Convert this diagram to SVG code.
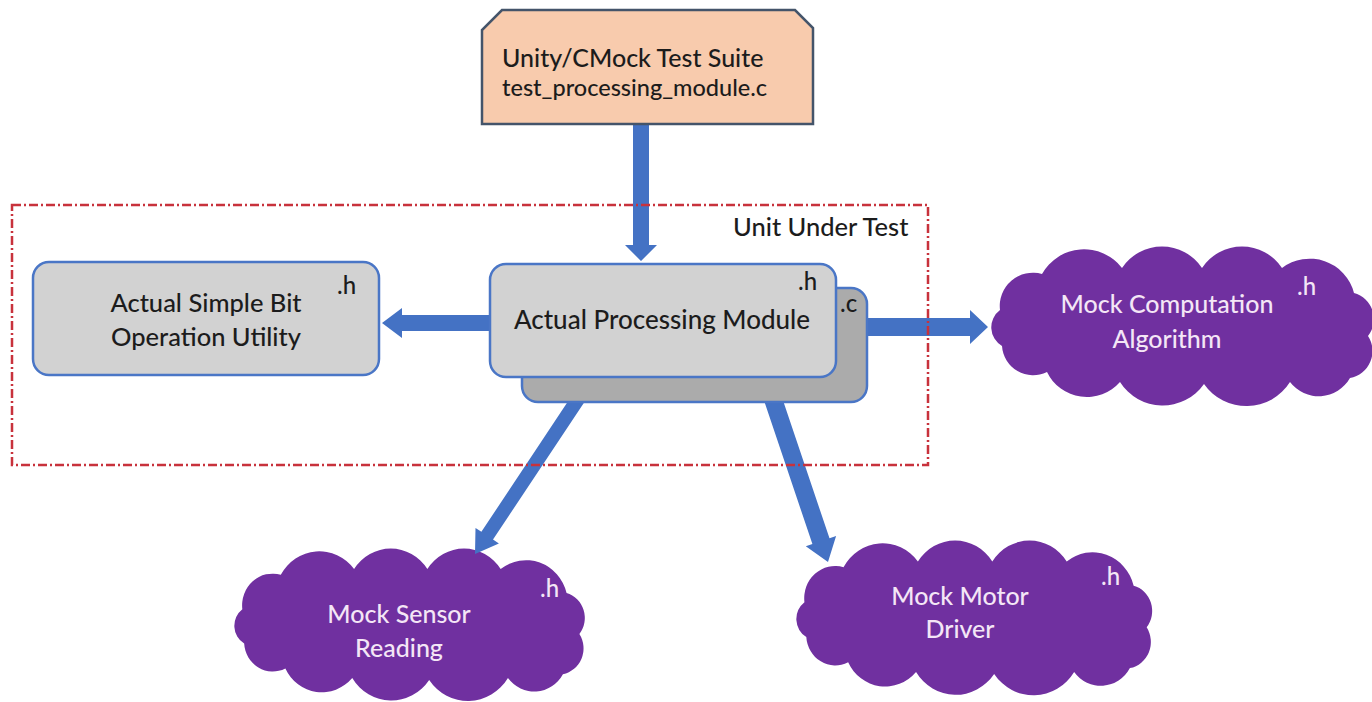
<svg xmlns="http://www.w3.org/2000/svg" width="1372" height="702" viewBox="0 0 1372 702">
  <style>
    text { font-family: Lato, "Open Sans", "Liberation Sans", sans-serif; font-weight: 500; }
    .dark { fill: #1c1c1c; }
    .light { fill: #f4e6f6; }
    .box { fill: #d2d2d2; stroke: #4a76c6; stroke-width: 2.5; }
    .boxback { fill: #ababab; stroke: #4a76c6; stroke-width: 2.5; }
    .cloud { fill: #7030a0; }
    .arrow { fill: #4472c4; }
    .frame { fill: none; stroke: #c8323c; stroke-width: 2.5; stroke-dasharray: 9 3 2 3; }
  </style>
  <defs>
    <!-- bumpy cloud outline in a 380 x 157 local box -->
    <path id="cloudShape" d="M8,62 A33.2,33.2 0 0 1 50,26 A48.1,48.1 0 0 1 130,20 A48,48 0 0 1 210,20 A48,48 0 0 1 290,20 A45.7,45.7 0 0 1 362,45 A27.1,27.1 0 0 1 376,88 A27.4,27.4 0 0 1 358,130 A36,36 0 0 1 298,134 A51.6,51.6 0 0 1 212,136 A50.4,50.4 0 0 1 128,134 A44.2,44.2 0 0 1 55,124 A31.2,31.2 0 0 1 10,98 A21.6,21.6 0 0 1 8,62 Z"/>
  </defs>

  <rect width="1372" height="702" fill="#ffffff"/>

  <!-- mock clouds -->
  <g id="mock-computation">
    <use href="#cloudShape" class="cloud" transform="translate(992,248)"/>
    <text class="light" x="1167" y="313" font-size="25" text-anchor="middle">Mock Computation</text>
    <text class="light" x="1167" y="348" font-size="25" text-anchor="middle">Algorithm</text>
    <text class="light" x="1297" y="295" font-size="24">.h</text>
  </g>
  <g id="mock-sensor">
    <use href="#cloudShape" class="cloud" transform="translate(235,550) scale(0.916,0.955)"/>
    <text class="light" x="399" y="623" font-size="25" text-anchor="middle">Mock Sensor</text>
    <text class="light" x="399" y="657" font-size="25" text-anchor="middle">Reading</text>
    <text class="light" x="540" y="597" font-size="24">.h</text>
  </g>
  <g id="mock-motor">
    <use href="#cloudShape" class="cloud" transform="translate(797,542) scale(0.93,0.97)"/>
    <text class="light" x="960" y="605" font-size="25" text-anchor="middle">Mock Motor</text>
    <text class="light" x="960" y="638" font-size="25" text-anchor="middle">Driver</text>
    <text class="light" x="1101" y="585" font-size="24">.h</text>
  </g>

  <!-- block arrows -->
  <g id="connectors">
    <polygon class="arrow" points="633,122 649,122 649,245 657,245 641,261 625,245 633,245"/>
    <polygon class="arrow" points="492,315 402,315 402,308 382,323 402,338 402,331 492,331"/>
    <polygon class="arrow" points="865,318 970,318 970,310 988,327 970,344 970,336 865,336"/>
    <polygon class="arrow" points="585.8,399.9 493.0,539.6 498.9,543.4 475,554 475.5,527.9 481.4,531.8 574.2,392.1"/>
    <polygon class="arrow" points="780.5,393.1 829.5,538.3 836.1,536.1 828,562 805.8,546.3 812.4,544.1 763.5,398.9"/>
  </g>

  <!-- test suite -->
  <g id="test-suite">
    <path d="M502,10 L795,10 L813,28 L813,124 L482,124 L482,30 Z" fill="#f8cbad" stroke="#44546a" stroke-width="2.5"/>
    <text class="dark" x="502" y="67" font-size="25">Unity/CMock Test Suite</text>
    <text class="dark" x="502" y="96" font-size="23.5">test_processing_module.c</text>
  </g>

  <!-- simple bit utility -->
  <g id="bit-utility">
    <rect class="box" x="33" y="262" width="346" height="113" rx="16"/>
    <text class="dark" x="206" y="312" font-size="25.5" text-anchor="middle">Actual Simple Bit</text>
    <text class="dark" x="206" y="346" font-size="25.5" text-anchor="middle">Operation Utility</text>
    <text class="dark" x="337" y="294" font-size="24">.h</text>
  </g>

  <!-- processing module: .c source behind .h header -->
  <g id="processing-module">
    <rect class="boxback" x="522" y="288" width="345" height="114" rx="16"/>
    <text class="dark" x="840" y="312" font-size="24">.c</text>
    <rect class="box" x="490" y="264" width="346" height="113" rx="16"/>
    <text class="dark" x="662" y="329" font-size="26" text-anchor="middle">Actual Processing Module</text>
    <text class="dark" x="798" y="290" font-size="24">.h</text>
  </g>

  <!-- unit under test boundary -->
  <g id="unit-under-test">
    <rect class="frame" x="12" y="205" width="916" height="260"/>
    <text class="dark" x="733" y="236" font-size="25.5">Unit Under Test</text>
  </g>
</svg>
